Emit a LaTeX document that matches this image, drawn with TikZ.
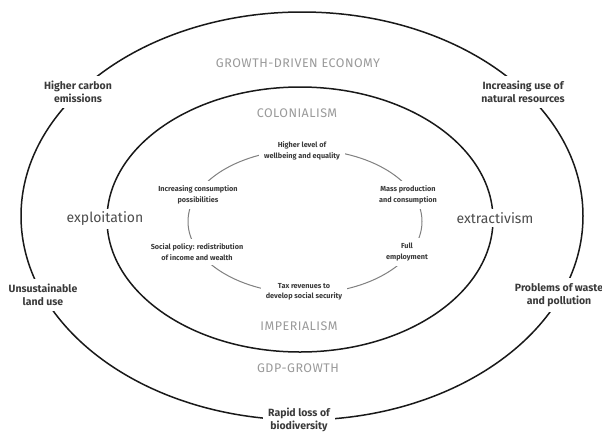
\documentclass[tikz,border=0pt]{standalone}
\usepackage{fontspec}
\setmainfont{Fira Sans}
\definecolor{labelgray}{HTML}{3A3A3A}
\definecolor{titlegray}{HTML}{9A9A9A}
\definecolor{cyclegray}{HTML}{808080}
\begin{document}
\begin{tikzpicture}[x=1pt,y=-1pt,
  outerline/.style={line width=1.5pt, black!90},
  innerline/.style={line width=1pt, cyclegray},
  biglabel/.style={font=\fontsize{10.5}{13}\selectfont\bfseries, text=labelgray, align=center, fill=white, inner sep=5pt},
  smalllabel/.style={font=\fontsize{7.3}{10.5}\selectfont\bfseries, text=labelgray, align=center, fill=white, inner sep=5pt},
  captitle/.style={font=\fontsize{12.5}{14}\selectfont\addfontfeature{LetterSpace=4}, text=titlegray},
  sidetitle/.style={font=\fontsize{14}{16}\selectfont, text=black!70, fill=white, inner sep=3pt}]
\useasboundingbox[fill=white] (0,0) rectangle (602,432);
% ellipses
\draw[outerline] (302,216) ellipse [x radius=281, y radius=204];
\draw[outerline] (300,219.5) ellipse [x radius=193, y radius=132.5];
\draw[innerline] (305,221.5) ellipse [x radius=117, y radius=72];
% outer labels
\node[biglabel] (carbon) at (78,92) {Higher carbon\\emissions};
\node[biglabel] (resources) at (523,92) {Increasing use of\\natural resources};
\node[biglabel] (land) at (43,295) {Unsustainable\\land use};
\node[biglabel] (waste) at (559,295) {Problems of waste\\and pollution};
\node[biglabel] (biodiv) at (299,420) {Rapid loss of\\biodiversity};
% titles
\node[captitle] (growth) at (298,63) {GROWTH-DRIVEN ECONOMY};
\node[captitle] (colonial) at (297,113) {COLONIALISM};
\node[captitle] (imperial) at (299,326) {IMPERIALISM};
\node[captitle] (gdp) at (298,368) {GDP-GROWTH};
\node[sidetitle] (exploit) at (105,219) {exploitation};
\node[sidetitle] (extract) at (495,218) {extractivism};
% cycle labels
\node[smalllabel] (wellbeing) at (302,151) {Higher level of\\wellbeing and equality};
\node[smalllabel] (consumption) at (198,195) {Increasing consumption\\possibilities};
\node[smalllabel] (mass) at (408,195) {Mass production\\and consumption};
\node[smalllabel] (social) at (197,252) {Social policy: redistribution\\of income and wealth};
\node[smalllabel] (employ) at (407,252) {Full\\employment};
\node[smalllabel] (tax) at (304,292) {Tax revenues to\\develop social security};
\end{tikzpicture}
\end{document}
